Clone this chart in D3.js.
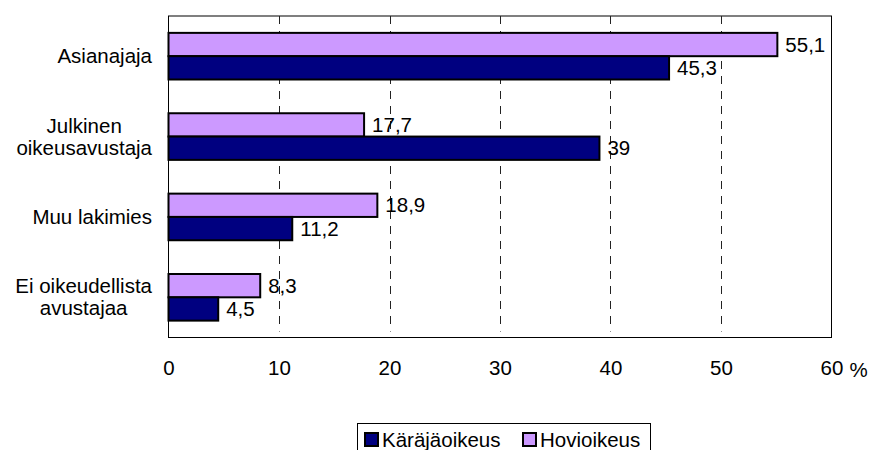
<!DOCTYPE html>
<html>
<head>
<meta charset="utf-8">
<script src="https://cdn.jsdelivr.net/npm/d3@7"></script>
<style>
body{margin:0;background:#fff;}
text{font-family:"Liberation Sans",Arial,sans-serif;fill:#000;}
</style>
</head>
<body>
<svg id="chart"></svg>
<script>
const categories = ["Asianajaja", "Julkinen oikeusavustaja", "Muu lakimies", "Ei oikeudellista avustajaa"]
const catLines = [["Asianajaja"], ["Julkinen", "oikeusavustaja"], ["Muu lakimies"], ["Ei oikeudellista", "avustajaa"]]
const seriesNames = ["Käräjäoikeus", "Hovioikeus"]
const karajaoikeus = [45.3, 39, 11.2, 4.5]
const hovioikeus = [55.1, 17.7, 18.9, 8.3]
const xTicks = [0, 10, 20, 30, 40, 50, 60]

const w = 873, h = 450
const plotL = 168.5, plotR = 831.5, plotT = 16, plotB = 337.5
const fs = "20.5px"
const colors = {"Käräjäoikeus": "#000080", "Hovioikeus": "#cc99ff"}

let svg = d3.select("#chart").attr("width", w).attr("height", h)

let xScale = d3.scaleLinear().domain([0, 60]).range([plotL, plotR])
let yScale = d3.scaleBand().domain(categories).range([plotT, plotB]).paddingInner(0.42).paddingOuter(0.21)
let sub = d3.scaleBand().domain(["Hovioikeus", "Käräjäoikeus"]).range([0, yScale.bandwidth()])

// frame
svg.append("rect").attr("x", plotL).attr("y", plotT).attr("width", plotR - plotL).attr("height", plotB - plotT)
  .attr("fill", "#fff").attr("stroke", "#000").attr("stroke-width", 1)

// dashed grid
svg.append("g").selectAll("line").data(xTicks.slice(1, -1)).enter().append("line")
  .attr("x1", d => Math.round(xScale(d)) + 0.5).attr("x2", d => Math.round(xScale(d)) + 0.5)
  .attr("y1", plotT).attr("y2", plotB - 6)
  .attr("stroke", "#222").attr("stroke-width", 1).attr("stroke-dasharray", "8,7")

// x axis
let xAxis = d3.axisBottom(xScale).tickValues(xTicks).tickSize(0).tickPadding(23).tickFormat(d3.format("d"))
let gx = svg.append("g").attr("transform", "translate(0," + plotB + ")").call(xAxis)
gx.select(".domain").remove()
gx.selectAll("text").style("font-size", fs).style("font-family", "Liberation Sans, Arial, sans-serif").attr("fill", "#000")
svg.append("text").attr("x", plotR + 18).attr("y", plotB + 39).style("font-size", fs).text("%")

// rows
let data = []
categories.forEach((c, i) => {
  data.push({cat: c, s: "Hovioikeus", v: hovioikeus[i]})
  data.push({cat: c, s: "Käräjäoikeus", v: karajaoikeus[i]})
})
let fmt = v => String(v).replace(".", ",")

svg.append("g").selectAll("rect").data(data).enter().append("rect")
  .attr("x", xScale(0))
  .attr("y", d => yScale(d.cat) + sub(d.s))
  .attr("width", d => xScale(d.v) - xScale(0))
  .attr("height", sub.bandwidth())
  .attr("fill", d => colors[d.s])
  .attr("stroke", "#000").attr("stroke-width", 2)

svg.append("g").selectAll("text").data(data).enter().append("text")
  .attr("x", d => xScale(d.v) + 8)
  .attr("y", d => yScale(d.cat) + sub(d.s) + sub.bandwidth() / 2 + 7)
  .style("font-size", fs)
  .text(d => fmt(d.v))

// category labels: block right-aligned, lines centred inside it
const labelRight = 152
categories.forEach((c, i) => {
  let lines = catLines[i]
  let cy = yScale(c) + yScale.bandwidth() / 2
  let g = svg.append("g")
  let ts = lines.map((l, j) => g.append("text").style("font-size", fs).attr("text-anchor", "middle")
    .attr("y", cy + 7 + (j - (lines.length - 1) / 2) * 22).text(l))
  let maxW = d3.max(ts, t => t.node().getComputedTextLength())
  ts.forEach(t => t.attr("x", labelRight - maxW / 2))
})

// legend
let lg = svg.append("g")
lg.append("rect").attr("x", 357.5).attr("y", 423.5).attr("width", 293).attr("height", 32)
  .attr("fill", "#fff").attr("stroke", "#000")
let lx = [364, 522]
seriesNames.forEach((s, i) => {
  lg.append("rect").attr("x", lx[i] + 1).attr("y", 433).attr("width", 13).attr("height", 13)
    .attr("fill", colors[s]).attr("stroke", "#000").attr("stroke-width", 2)
  lg.append("text").attr("x", lx[i] + 18).attr("y", 447).style("font-size", fs).text(s)
})
</script>
</body>
</html>
